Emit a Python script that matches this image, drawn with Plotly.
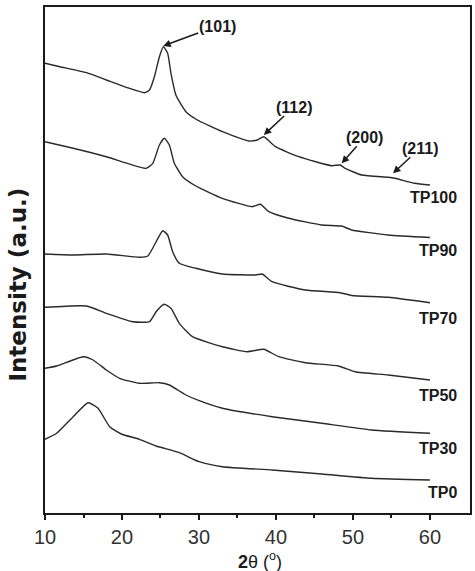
import plotly.graph_objects as go

# 2-theta positions (degrees) and intensities (a.u., stacked offsets)
tp100_x = [10, 11.94, 15.39, 17.97, 20.55, 22.92, 23.57, 24.21, 24.86, 25.37, 25.93, 26.36, 27.0, 28.3, 29.8, 33.04, 36.49, 37.56, 38.42, 39.93, 42.95, 47.25, 48.33, 48.98, 51.13, 54.57, 55.44, 58.02, 60]
tp100_y = [449.7, 446.3, 440.3, 433, 425.7, 420.3, 423, 436.3, 456.3, 466.3, 459.7, 439.7, 418, 401.3, 393, 381.3, 372, 373, 376.3, 366.3, 356.3, 347.3, 348, 344.7, 338, 335.7, 334.7, 329.7, 328]

tp90_x = [10, 13.66, 17.97, 23.14, 24.0, 24.86, 25.5, 26.15, 26.8, 27.87, 29.6, 33.04, 36.91, 37.99, 39.07, 41.65, 45.96, 48.54, 49.83, 54.57, 60]
tp90_y = [371.3, 364.7, 356.3, 344.7, 349.7, 368, 374.7, 368, 349.7, 336.3, 327, 314.7, 306.3, 308.7, 301.3, 294.7, 288, 287, 283, 278, 275.5]

tp70_x = [10, 13.66, 17.97, 22.27, 23.35, 24.21, 25.29, 25.93, 26.58, 27.44, 29.6, 33.04, 37.35, 38.2, 39.5, 43.81, 48.33, 49.83, 54.57, 60]
tp70_y = [259, 258, 259, 255.7, 257, 268, 282.3, 278, 261.3, 249.7, 244.7, 239, 238, 239, 231.3, 223, 220.3, 217.5, 215.7, 210.3]

tp50_x = [10, 15.39, 17.97, 21.41, 23.57, 24.43, 25.5, 26.36, 27.44, 29.16, 33.04, 36.27, 38.42, 40.36, 43.81, 48.11, 50.27, 54.57, 60]
tp50_y = [205.7, 207, 199.7, 191.3, 191.3, 201.3, 208.7, 204.7, 189.7, 176.3, 166.3, 161.3, 163.7, 156.3, 150.3, 147, 141.3, 138, 133]

tp30_x = [10, 11.51, 14.95, 16.24, 17.97, 19.69, 22.27, 24.86, 26.15, 28.3, 30.03, 33.04, 39.5, 45.96, 52.42, 60]
tp30_y = [144.7, 147, 156.3, 153, 143, 134.7, 129.7, 130.3, 128, 118, 112.3, 104.7, 96.3, 89.7, 83, 79.7]

tp0_x = [10, 11.51, 13.66, 15.6, 16.89, 18.4, 19.91, 22.27, 24.43, 27.44, 30.03, 33.04, 39.5, 45.96, 52.42, 60]
tp0_y = [73.7, 79.7, 96.3, 110.3, 104.7, 86.3, 79, 73.7, 67, 60.3, 51.3, 46.3, 43, 39, 34.7, 33]

series_names = ["TP100", "TP90", "TP70", "TP50", "TP30", "TP0"]
series_x = [tp100_x, tp90_x, tp70_x, tp50_x, tp30_x, tp0_x]
series_y = [tp100_y, tp90_y, tp70_y, tp50_y, tp30_y, tp0_y]
label_y = [315.7, 263, 195, 118, 65, 21]

peak_labels = ["(101)", "(112)", "(200)", "(211)"]
peak_x = [25.35, 38.42, 48.54, 55.2]
peak_y = [467, 378, 349.7, 339.7]
peak_ax = [54, 30, 23, 27]
peak_ay = [-20, -28, -26, -25]

FONT = "Liberation Sans, Arial, Helvetica, sans-serif"

fig = go.Figure()
for name, xs, ys in zip(series_names, series_x, series_y):
    fig.add_trace(go.Scatter(x=xs, y=ys, mode="lines", name=name,
                             line=dict(color="#2a2a2a", width=1.4, shape="spline", smoothing=0.5),
                             showlegend=False, hoverinfo="skip"))

for name, ly in zip(series_names, label_y):
    fig.add_annotation(x=63.6, y=ly, text="<b>%s</b>" % name, showarrow=False,
                       xanchor="right", yanchor="middle", borderpad=0,
                       font=dict(family=FONT, size=16, color="#1a1a1a"))

for t, px, py, ax, ay in zip(peak_labels, peak_x, peak_y, peak_ax, peak_ay):
    fig.add_annotation(x=px, y=py, text="<b>%s</b>" % t, showarrow=True,
                       ax=ax, ay=ay, arrowhead=2, arrowsize=1.0, arrowwidth=1.5,
                       arrowcolor="#1a1a1a", borderpad=0,
                       font=dict(family=FONT, size=16, color="#1a1a1a"))

fig.add_annotation(xref="paper", yref="paper", x=-0.064, y=0.451,
                   text="<b>Intensity (a.u.)</b>", textangle=-90, showarrow=False,
                   xanchor="center", yanchor="middle",
                   font=dict(family="DejaVu Sans, sans-serif", size=23, color="#1a1a1a"))

fig.add_annotation(xref="paper", yref="paper", x=0.507, y=-0.07,
                   text="<b>2</b>θ (<sup>o</sup>)", showarrow=False,
                   xanchor="center", yanchor="top", borderpad=0,
                   font=dict(family=FONT, size=18, color="#1a1a1a"))

fig.update_layout(
    width=475, height=571,
    margin=dict(l=45, r=3, t=7, b=58),
    plot_bgcolor="white", paper_bgcolor="white",
    xaxis=dict(range=[10, 65.2], tickvals=[10, 20, 30, 40, 50, 60],
               ticks="outside", ticklen=5, tickwidth=1.5, tickcolor="#1a1a1a",
               minor=dict(tickvals=[15, 25, 35, 45, 55], ticks="outside", ticklen=3, tickwidth=1.5, tickcolor="#1a1a1a"),
               showline=True, linecolor="#1a1a1a", linewidth=1.6, mirror=True,
               showgrid=False, zeroline=False,
               tickfont=dict(family=FONT, size=20, color="#333333")),
    yaxis=dict(range=[0, 506], showticklabels=False, ticks="",
               showline=True, linecolor="#1a1a1a", linewidth=1.6, mirror=True,
               showgrid=False, zeroline=False),
)

fig.write_html("out.html")
